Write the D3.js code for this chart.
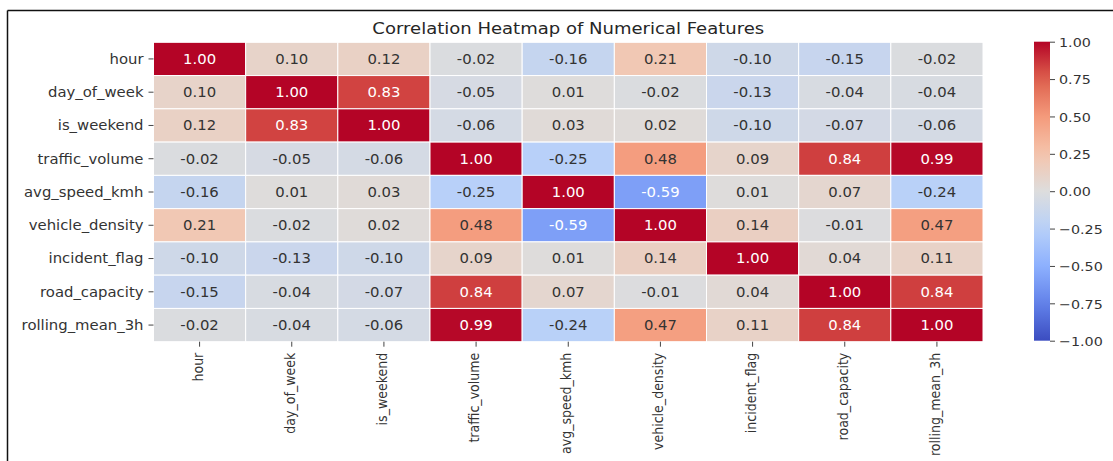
<!DOCTYPE html>
<html>
<head>
<meta charset="utf-8">
<script src="https://cdn.jsdelivr.net/npm/d3@7"></script>
<style>
  body { margin: 0; background: #fff; }
  text { font-family: "DejaVu Sans", sans-serif; }
</style>
</head>
<body>
<script>
// feature names (rows and columns)
var features = ["hour", "day_of_week", "is_weekend", "traffic_volume", "avg_speed_kmh",
  "vehicle_density", "incident_flag", "road_capacity", "rolling_mean_3h"];

// correlation matrix, one row per feature
var corrHour      = [1.00, 0.10, 0.12, -0.02, -0.16, 0.21, -0.10, -0.15, -0.02];
var corrDay       = [0.10, 1.00, 0.83, -0.05, 0.01, -0.02, -0.13, -0.04, -0.04];
var corrWeekend   = [0.12, 0.83, 1.00, -0.06, 0.03, 0.02, -0.10, -0.07, -0.06];
var corrVolume    = [-0.02, -0.05, -0.06, 1.00, -0.25, 0.48, 0.09, 0.84, 0.99];
var corrSpeed     = [-0.16, 0.01, 0.03, -0.25, 1.00, -0.59, 0.01, 0.07, -0.24];
var corrDensity   = [0.21, -0.02, 0.02, 0.48, -0.59, 1.00, 0.14, -0.01, 0.47];
var corrIncident  = [-0.10, -0.13, -0.10, 0.09, 0.01, 0.14, 1.00, 0.04, 0.11];
var corrCapacity  = [-0.15, -0.04, -0.07, 0.84, 0.07, -0.01, 0.04, 1.00, 0.84];
var corrRolling   = [-0.02, -0.04, -0.06, 0.99, -0.24, 0.47, 0.11, 0.84, 1.00];

var matrix = [corrHour, corrDay, corrWeekend, corrVolume, corrSpeed,
  corrDensity, corrIncident, corrCapacity, corrRolling];

var colorbarTicks = [1.00, 0.75, 0.50, 0.25, 0.00, -0.25, -0.50, -0.75, -1.00];

var width = 1113,
    height = 461,
    stretch = 1.1;   // the screenshot is a bit wider than tall

var svg = d3.select("body").append("svg")
    .attr("width", width)
    .attr("height", height);

// frame lines (left and top) seen in the screenshot
svg.append("line").attr("x1", 7.5).attr("x2", 7.5).attr("y1", 10.5).attr("y2", height)
    .attr("stroke", "#111").attr("stroke-width", 1.5);
svg.append("line").attr("x1", 7.5).attr("x2", width).attr("y1", 10.5).attr("y2", 10.5)
    .attr("stroke", "#111").attr("stroke-width", 1.5);

var plotLeft = 153.5, plotTop = 42.3, plotRight = 983, plotBottom = 341.7;

var x = d3.scaleBand().domain(features).range([plotLeft, plotRight]);
var y = d3.scaleBand().domain(features).range([plotTop, plotBottom]);

// coolwarm approximation
var color = d3.scaleLinear()
    .domain([-1, -0.75, -0.5, -0.25, 0, 0.25, 0.5, 0.75, 1])
    .range(["#3b4cc0", "#6282ea", "#8db0fe", "#b8d0f9", "#dddddd",
            "#f5c4ac", "#f49a7b", "#de604d", "#b40426"])
    .interpolate(d3.interpolateRgb)
    .clamp(true);

function textColor(v) {
  var c = d3.rgb(color(v));
  function lin(u) { u = u / 255; return u <= 0.03928 ? u / 12.92 : Math.pow((u + 0.055) / 1.055, 2.4); }
  var lum = 0.2126 * lin(c.r) + 0.7152 * lin(c.g) + 0.0722 * lin(c.b);
  return lum < 0.408 ? "#fff" : "#333";
}

// widen a horizontal text around its own x position
function widen(sel, tx, ty) {
  sel.attr("transform", function(d) {
      return "translate(" + tx(d) + "," + ty(d) + ") scale(" + stretch + ",1)";
    })
    .attr("x", 0)
    .attr("y", 0);
}

var cells = [];
matrix.forEach(function(row, i) {
  row.forEach(function(v, j) {
    cells.push({row: features[i], col: features[j], value: v});
  });
});

var cell = svg.append("g").selectAll("g")
    .data(cells)
    .enter().append("g");

cell.append("rect")
    .attr("x", function(d) { return x(d.col); })
    .attr("y", function(d) { return y(d.row); })
    .attr("width", x.bandwidth())
    .attr("height", y.bandwidth())
    .attr("fill", function(d) { return color(d.value); })
    .attr("stroke", "#fff")
    .attr("stroke-width", 1);

cell.append("text")
    .attr("dy", "0.36em")
    .attr("text-anchor", "middle")
    .attr("font-size", 13.5)
    .attr("fill", function(d) { return textColor(d.value); })
    .text(function(d) { return d.value.toFixed(2); })
    .call(widen,
      function(d) { return x(d.col) + x.bandwidth() / 2; },
      function(d) { return y(d.row) + y.bandwidth() / 2; });

// axes
var yAxis = svg.append("g")
    .attr("transform", "translate(" + plotLeft + ",0)")
    .call(d3.axisLeft(y).tickSize(5).tickPadding(5));
yAxis.select(".domain").remove();
yAxis.selectAll("line").attr("stroke", "#444");
yAxis.selectAll("text").attr("font-size", 13.5).attr("fill", "#333")
    .style("font-family", "DejaVu Sans, sans-serif")
    .attr("dy", "0.36em")
    .call(widen, function() { return -10; }, function() { return 0; });

var xAxis = svg.append("g")
    .attr("transform", "translate(0," + plotBottom + ")")
    .call(d3.axisBottom(x).tickSize(5).tickPadding(6));
xAxis.select(".domain").remove();
xAxis.selectAll("line").attr("stroke", "#444");
xAxis.selectAll("text")
    .attr("font-size", 12.6).attr("fill", "#333")
    .style("font-family", "DejaVu Sans, sans-serif")
    .attr("transform", "translate(-2,0) rotate(-90) scale(1," + stretch + ")")
    .attr("text-anchor", "end")
    .attr("x", -11)
    .attr("y", 0)
    .attr("dy", "0.36em");

// title
svg.append("text")
    .attr("text-anchor", "middle")
    .attr("font-size", 16.4)
    .attr("fill", "#262626")
    .text("Correlation Heatmap of Numerical Features")
    .call(widen, function() { return (plotLeft + plotRight) / 2; }, function() { return 34; });

// colorbar
var cbX = 1034, cbW = 16;
var cbScale = d3.scaleLinear().domain([-1, 1]).range([340.7, 41.7]);

var defs = svg.append("defs");
var grad = defs.append("linearGradient")
    .attr("id", "cbgrad")
    .attr("x1", "0").attr("x2", "0").attr("y1", "1").attr("y2", "0");
d3.range(0, 1.0001, 0.05).forEach(function(t) {
  grad.append("stop")
      .attr("offset", t)
      .attr("stop-color", color(-1 + 2 * t));
});

svg.append("rect")
    .attr("x", cbX)
    .attr("y", cbScale(1))
    .attr("width", cbW)
    .attr("height", cbScale(-1) - cbScale(1))
    .attr("fill", "url(#cbgrad)");

var cbAxis = svg.append("g")
    .attr("transform", "translate(" + (cbX + cbW) + ",0)")
    .call(d3.axisRight(cbScale).tickValues(colorbarTicks)
      .tickSize(5).tickPadding(4)
      .tickFormat(function(d) { return d3.format(".2f")(d).replace("-", "\u2212"); }));
cbAxis.select(".domain").remove();
cbAxis.selectAll("line").attr("stroke", "#444");
cbAxis.selectAll("text").attr("font-size", 13).attr("fill", "#333")
    .style("font-family", "DejaVu Sans, sans-serif")
    .attr("dy", "0.36em")
    .call(widen, function() { return 9; }, function() { return 0; });
</script>
</body>
</html>
